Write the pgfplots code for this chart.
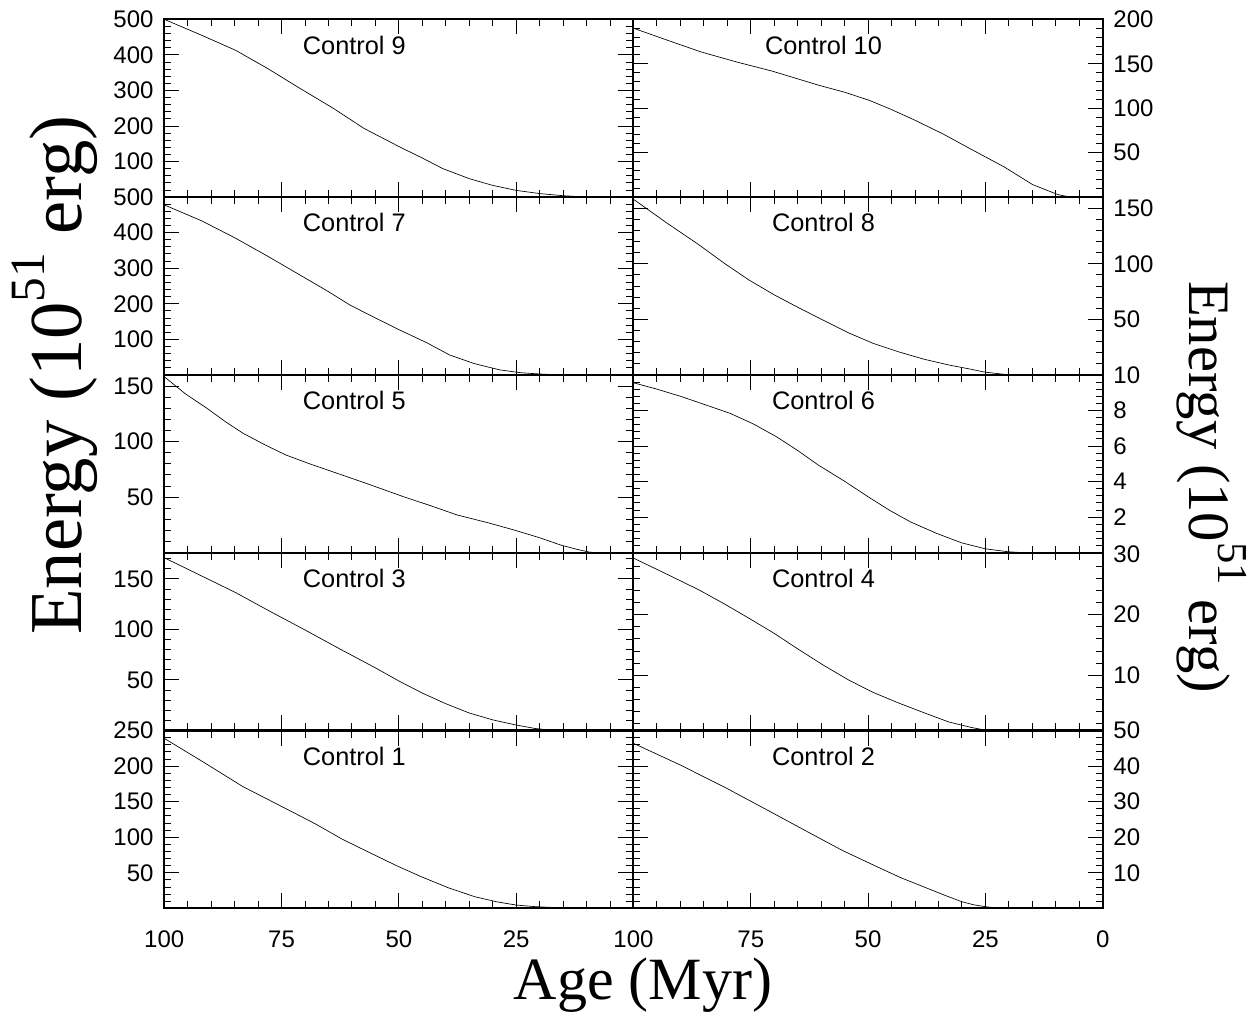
\documentclass[border=0pt]{standalone}
\usepackage{pgfplots}
\pgfplotsset{compat=1.18}
\usepackage{fontspec}
\setmainfont{Liberation Serif}
\newfontfamily\sans{Liberation Sans}
\pgfplotsset{
  panel/.style={
    width=351.9pt, height=133.35pt, scale only axis,
    line width=1.5pt,
    xmin=0, xmax=100, x dir=reverse,
    xtick={0,25,50,75,100}, minor xtick={5,10,15,20,30,35,40,45,55,60,65,70,80,85,90,95},
    xticklabels={},
    xtick pos=both, ytick pos=both,
    tick align=inside,
    major tick length=11.25pt, minor tick length=5.25pt,
    every tick/.style={black, line width=0.7pt},
    tick label style={font=\sans\fontsize{18}{18}\selectfont},
    /pgf/number format/assume math mode=true,
    /pgf/number format/1000 sep={},
    yticklabel style={/pgf/number format/fixed},
    cycle list={{black, mark=none}},
    every axis plot/.append style={line width=0.5pt},
  },
  leftp/.style={panel, yticklabel pos=left, yticklabel style={xshift=-4pt}},
  rightp/.style={panel, yticklabel pos=right, yticklabel style={xshift=4pt}},
  bottomp/.style={xticklabels={0,25,50,75,100}, xticklabel style={yshift=-13pt}},
}
\newcommand\ctrl[1]{\node[font=\sans\fontsize{19}{19}\selectfont] at (axis description cs:0.405,0.855) {Control #1};}
\newcommand\ene[1]{Energy (10\raisebox{0.5em}{\fontsize{#1}{#1}\selectfont 51} erg)}
\begin{document}
\begin{tikzpicture}
\path (0,0) rectangle (944.25pt,-761.25pt);
% Row 1
\begin{axis}[leftp, at={(123.2pt,-14.5pt)}, anchor=north west,
  ymin=0, ymax=500, ytick={100,200,300,400,500}, minor ytick={20,40,...,480}]
\addplot coordinates {(100,500) (92,455) (84.8,413) (78,362) (71.1,306) (64,250) (57.4,193) (49.8,141) (45,110) (40.6,80) (35,52) (30,33) (25,19) (20,10) (15,4) (11,1) (8,0) (0,0)};
\ctrl{9}
\end{axis}
\begin{axis}[rightp, at={(475.1pt,-14.5pt)}, anchor=north west,
  ymin=0, ymax=200, ytick={50,100,150,200}, minor ytick={10,20,...,190}]
\addplot coordinates {(100,190) (92.5,176) (85.7,163.5) (78,152) (70.4,141.7) (60.6,126) (55,118) (49.8,109) (45,98.5) (40,86.5) (34,71) (28.3,54.6) (21,34) (14.9,14) (9.5,2.8) (6.8,0) (0,0)};
\ctrl{10}
\end{axis}
% Row 2
\begin{axis}[leftp, at={(123.2pt,-147.8pt)}, anchor=north west,
  ymin=0, ymax=500, ytick={100,200,300,400,500}, minor ytick={20,40,...,480}]
\addplot coordinates {(100,478) (92,433) (84.9,385) (78,334) (71.1,281) (65,234) (60.5,197) (55,160) (49.8,126) (44,90) (39.2,56) (34,32) (28.5,14) (24,6) (20,2.5) (16,0) (0,0)};
\ctrl{7}
\end{axis}
\begin{axis}[rightp, at={(475.1pt,-147.8pt)}, anchor=north west,
  ymin=0, ymax=160, ytick={50,100,150}, minor ytick={10,20,...,150}]
\addplot coordinates {(100,158) (93,137) (86,116.9) (80.5,100) (75.4,85.4) (70,72) (64.7,60.2) (59,48) (54.1,37.7) (49,28.5) (43.4,20.6) (38,14) (32.8,8.9) (28,5) (25.3,2.6) (20,0) (0,0)};
\ctrl{8}
\end{axis}
% Row 3
\begin{axis}[leftp, at={(123.2pt,-281.2pt)}, anchor=north west,
  ymin=0, ymax=160, ytick={50,100,150}, minor ytick={10,20,...,150}]
\addplot coordinates {(100,158.4) (95.5,143) (90.9,130) (87,118) (83.2,107.5) (78.5,97) (74.1,88) (69,80) (64.2,73) (57,62.5) (49,50.4) (43,42) (37.6,34) (31,27) (25.4,20.4) (20,13.5) (15.5,6.9) (12,3) (9.4,0.6) (8,0) (0,0)};
\ctrl{5}
\end{axis}
\begin{axis}[rightp, at={(475.1pt,-281.2pt)}, anchor=north west,
  ymin=0, ymax=10, ytick={2,4,6,8,10}, minor ytick={0.4,0.8,...,9.6}]
\addplot coordinates {(100,9.56) (95,9.2) (90.1,8.81) (85,8.35) (79.4,7.84) (74.5,7.25) (69.5,6.52) (65,5.75) (60.6,4.93) (55,4.02) (50,3.15) (45.5,2.4) (41,1.74) (35.5,1.1) (30.1,0.56) (25,0.22) (20.3,0.06) (17,0) (0,0)};
\ctrl{6}
\end{axis}
% Row 4
\begin{axis}[leftp, at={(123.2pt,-414.5pt)}, anchor=north west,
  ymin=0, ymax=176, ytick={50,100,150}, minor ytick={10,20,...,170}]
\addplot coordinates {(100,171) (92.5,154) (85,137) (77.5,118) (70,99.5) (62.5,80.5) (55,62) (50,49) (45,37) (40,26.5) (35,17.3) (30,10.5) (25,5.4) (21,2) (18,0.5) (15,0) (0,0)};
\ctrl{3}
\end{axis}
\begin{axis}[rightp, at={(475.1pt,-414.5pt)}, anchor=north west,
  ymin=0.9, ymax=30.2, ytick={10,20,30}, minor ytick={2,4,...,28}]
\addplot coordinates {(100,29.3) (93,26.7) (86,24.05) (80.5,21.7) (75.4,19.4) (70,16.9) (64.7,14.2) (59.4,11.6) (54.1,9.2) (49,7.2) (43.4,5.4) (38,3.8) (32.8,2.3) (28,1.4) (25.3,1.0) (22,0.9)};
\ctrl{4}
\end{axis}
% Row 5
\begin{axis}[leftp, bottomp, at={(123.2pt,-547.9pt)}, anchor=north west,
  ymin=0, ymax=250, ytick={50,100,150,200,250}, minor ytick={10,20,...,240},
  xticklabels={,25,50,75,100}]
\addplot coordinates {(100,239) (91.5,205) (83.2,171) (75.5,145) (68,119.5) (62,97) (55.9,77.3) (50.5,60) (45.2,44.4) (39.5,29) (33.8,16.3) (29,9) (25,4.6) (21,2.4) (17.8,1.4) (13,0) (0,0)};
\ctrl{1}
\end{axis}
\begin{axis}[rightp, bottomp, at={(475.1pt,-547.9pt)}, anchor=north west,
  ymin=0, ymax=50, ytick={10,20,30,40,50}, minor ytick={2,4,...,48}]
\addplot coordinates {(100,46.4) (90,40.3) (80.2,33.8) (71,27.3) (62.3,21.1) (55.5,16.3) (48.9,12.2) (43,8.6) (37.3,5.6) (33.5,3.6) (30.1,1.9) (27.5,1.0) (24.9,0.45) (22,0) (0,0)};
\ctrl{2}
\end{axis}
% Axis titles
\node[rotate=90, font=\fontsize{56}{56}\selectfont] at (41.25pt,-281.25pt) {\ene{37}};
\node[rotate=-90, font=\fontsize{44}{44}\selectfont] at (909pt,-365.25pt) {\ene{32}};
\node[font=\fontsize{45}{45}\selectfont] at (482.25pt,-738.75pt) {Age (Myr)};
\end{tikzpicture}
\end{document}
